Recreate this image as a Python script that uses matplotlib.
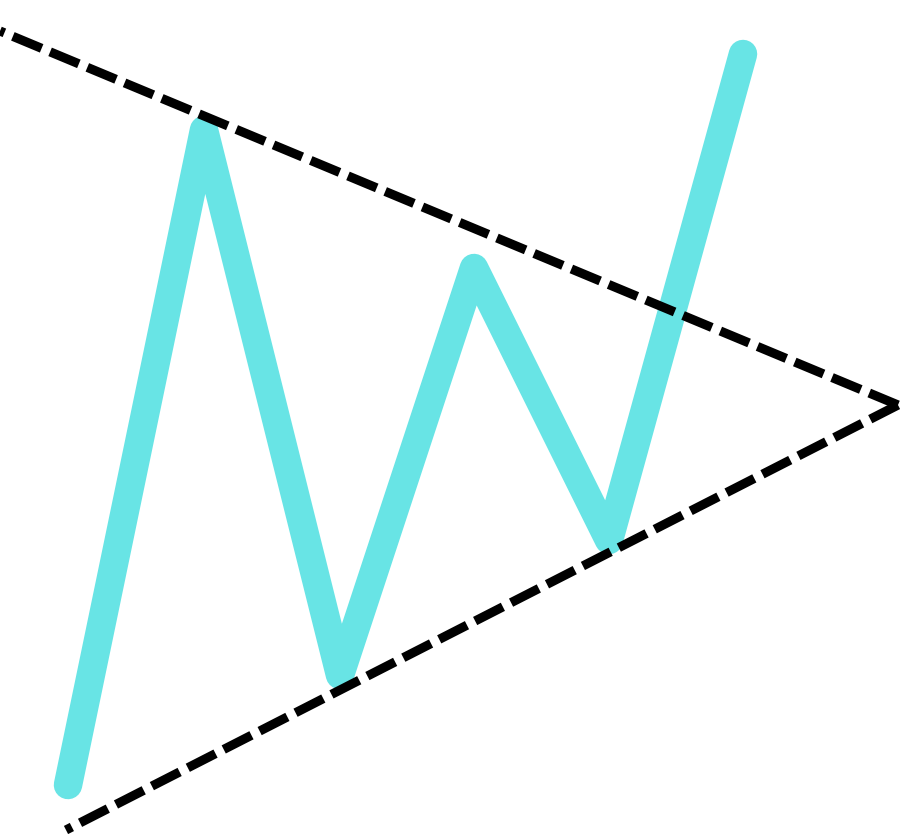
import matplotlib
matplotlib.use("Agg")
import matplotlib.pyplot as plt

# zigzag price path (pixel-ish coordinates, y grows downward)
path_x = [68, 204, 340, 474, 609, 743]
path_y = [785, 130, 675, 268, 540, 54]

# trend lines, drawn outward from the apex
upper_x = [898, 0]
upper_y = [405, 31]
lower_x = [898, 66]
lower_y = [405, 830]

fig = plt.figure(figsize=(9, 8.34), dpi=100)
ax = fig.add_axes([0, 0, 1, 1])
ax.set_xlim(0, 900)
ax.set_ylim(834, 0)
ax.axis('off')

ax.plot(path_x, path_y, color='#68e4e5', lw=20.5,
        solid_capstyle='round', solid_joinstyle='round', zorder=1)

for xs, ys in [(upper_x, upper_y), (lower_x, lower_y)]:
    ax.plot(xs, ys, color='black', lw=6.6, linestyle=(0, (3.4, 1.0)),
            dash_capstyle='butt', zorder=2)

fig.savefig("out.png", dpi=100)
